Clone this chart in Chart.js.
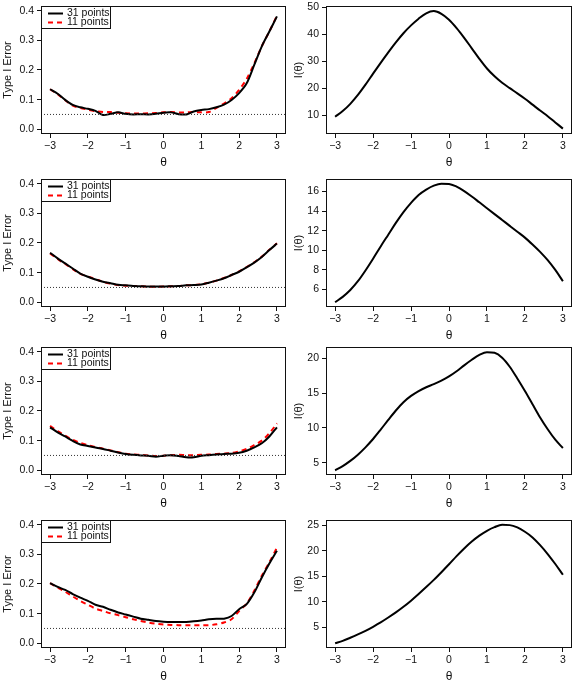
<!DOCTYPE html>
<html><head><meta charset="utf-8">
<script src="https://cdn.jsdelivr.net/npm/chart.js@4.4.0/dist/chart.umd.min.js"></script>
<style>
html,body{margin:0;padding:0;background:#fff;width:574px;height:682px;overflow:hidden;}
canvas{position:absolute;display:block;}
</style></head><body>
<script>
// ---------- data ----------
const theta = [-3.0,-2.8,-2.6,-2.4,-2.2,-2.0,-1.8,-1.6,-1.4,-1.2,-1.0,-0.8,-0.6,-0.4,-0.2,0.0,0.2,0.4,0.6,0.8,1.0,1.2,1.4,1.6,1.8,2.0,2.2,2.4,2.6,2.8,3.0];
const xTicks = [-3,-2,-1,0,1,2,3];
const xTickLabels = ["\u22123","\u22122","\u22121","0","1","2","3"];
const errTicks = [0,0.1,0.2,0.3,0.4];
const errTickLabels = ["0.0","0.1","0.2","0.3","0.4"];
const legendLabels = ["31 points","11 points"];
const alpha = 0.05;

const err31_1 = [0.135,0.120,0.099,0.082,0.074,0.069,0.062,0.048,0.052,0.057,0.052,0.050,0.051,0.050,0.052,0.056,0.057,0.051,0.050,0.060,0.065,0.068,0.074,0.083,0.099,0.122,0.155,0.217,0.280,0.330,0.381];
const err11_1 = [0.135,0.118,0.098,0.080,0.072,0.066,0.061,0.058,0.058,0.056,0.054,0.053,0.053,0.054,0.055,0.057,0.058,0.057,0.057,0.058,0.057,0.058,0.072,0.087,0.105,0.133,0.170,0.222,0.280,0.330,0.383];
const info1 = [9.4,11.5,14.2,17.5,21.3,25.4,29.4,33.3,37.0,40.4,43.3,45.8,47.8,48.6,47.6,45.4,42.3,38.7,34.8,30.9,27.3,24.4,22.0,20.0,18.1,16.1,13.9,11.7,9.6,7.3,5.0];
const infoTicks1 = [10,20,30,40,50];

const err31_2 = [0.167,0.148,0.131,0.114,0.097,0.086,0.077,0.069,0.064,0.059,0.057,0.055,0.054,0.053,0.053,0.053,0.054,0.055,0.057,0.058,0.060,0.066,0.073,0.081,0.092,0.103,0.118,0.134,0.153,0.176,0.198];
const err11_2 = [0.165,0.146,0.129,0.112,0.096,0.087,0.078,0.069,0.063,0.058,0.056,0.055,0.054,0.053,0.052,0.053,0.054,0.055,0.057,0.058,0.061,0.066,0.073,0.082,0.092,0.104,0.119,0.135,0.154,0.177,0.199];
const info2 = [4.71,5.25,5.95,6.85,7.95,9.15,10.4,11.6,12.8,13.9,14.85,15.65,16.2,16.6,16.8,16.78,16.5,16.05,15.5,14.9,14.3,13.7,13.1,12.5,11.9,11.3,10.6,9.85,9.0,8.0,6.85];
const infoTicks2 = [6,8,10,12,14,16];

const err31_3 = [0.145,0.128,0.114,0.099,0.087,0.082,0.077,0.072,0.066,0.060,0.055,0.052,0.050,0.049,0.046,0.049,0.051,0.048,0.044,0.044,0.049,0.051,0.053,0.055,0.056,0.059,0.066,0.077,0.091,0.114,0.145];
const err11_3 = [0.150,0.132,0.117,0.103,0.092,0.085,0.078,0.073,0.067,0.061,0.056,0.053,0.052,0.050,0.048,0.049,0.051,0.052,0.051,0.051,0.052,0.053,0.055,0.056,0.058,0.064,0.072,0.085,0.100,0.125,0.158];
const info3 = [3.9,4.5,5.25,6.15,7.2,8.4,9.75,11.15,12.5,13.7,14.6,15.3,15.85,16.3,16.8,17.4,18.15,19.0,19.8,20.5,20.9,20.8,20.1,18.8,17.1,15.3,13.4,11.5,9.8,8.3,7.1];
const infoTicks3 = [5,10,15,20];

const err31_4 = [0.203,0.190,0.180,0.166,0.154,0.143,0.130,0.123,0.113,0.104,0.097,0.090,0.083,0.079,0.075,0.073,0.072,0.072,0.072,0.074,0.077,0.081,0.083,0.083,0.092,0.115,0.132,0.171,0.222,0.269,0.312];
const err11_4 = [0.203,0.188,0.174,0.158,0.143,0.130,0.117,0.109,0.101,0.095,0.088,0.081,0.075,0.070,0.066,0.063,0.062,0.061,0.061,0.061,0.061,0.061,0.064,0.070,0.081,0.109,0.134,0.177,0.228,0.273,0.323];
const info4 = [1.94,2.4,3.0,3.65,4.35,5.15,6.0,6.95,7.95,9.05,10.25,11.55,12.9,14.3,15.8,17.35,18.95,20.45,21.8,22.95,23.9,24.6,25.05,25.0,24.55,23.7,22.6,21.1,19.35,17.4,15.3];
const infoTicks4 = [5,10,15,20,25];

// ---------- setup ----------
Chart.defaults.font.family = '"Liberation Sans", Arial, Helvetica, sans-serif';
Chart.defaults.color = '#111';
Chart.defaults.animation = false;

const X_MIN = -3.24, X_MAX = 3.24;
const xy = vals => theta.map((t,i)=>({x:t, y:vals[i]}));

const boxPlugin = {
  id: 'box',
  afterDatasetsDraw(chart, args, opts) {
    const {ctx, chartArea:a} = chart;
    ctx.save();
    ctx.strokeStyle = '#111'; ctx.lineWidth = 1; ctx.setLineDash([]);
    ctx.strokeRect(a.left+0.5, a.top+0.5, a.right-a.left-1, a.bottom-a.top-1);
    if (opts && opts.legend) {
      const lx = a.left, ly = a.top, lw = 69, lh = 22;
      ctx.fillStyle = '#fff';
      ctx.fillRect(lx+1, ly+1, lw-1, lh-1);
      ctx.strokeRect(lx+0.5, ly+0.5, lw, lh);
      ctx.lineWidth = 2;
      ctx.strokeStyle = '#000';
      ctx.beginPath(); ctx.moveTo(lx+7, ly+7.5); ctx.lineTo(lx+22, ly+7.5); ctx.stroke();
      ctx.strokeStyle = '#ff0000'; ctx.setLineDash([5,4]);
      ctx.beginPath(); ctx.moveTo(lx+7, ly+16.5); ctx.lineTo(lx+23, ly+16.5); ctx.stroke();
      ctx.setLineDash([]);
      ctx.fillStyle = '#111';
      ctx.font = '10.5px "Liberation Sans", Arial, sans-serif';
      ctx.textBaseline = 'middle'; ctx.textAlign = 'left';
      ctx.fillText(legendLabels[0], lx+26, ly+7);
      ctx.fillText(legendLabels[1], lx+26, ly+16);
    }
    ctx.restore();
  }
};

const tickGrid = {display:true, drawOnChartArea:false, drawTicks:true, tickLength:4, color:'#111', lineWidth:1};

function xScale() {
  return {
    type:'linear', min:X_MIN, max:X_MAX,
    afterBuildTicks(s){ s.ticks = xTicks.map(v=>({value:v})); },
    afterFit(s){ s.height = 36; s.paddingLeft = 0; s.paddingRight = 0; },
    grid: tickGrid, border:{display:false},
    ticks:{font:{size:10.5}, padding:2, maxRotation:0, autoSkip:false, color:'#111',
      callback:(v,i)=>xTickLabels[i]},
    title:{display:true, text:'\u03b8', font:{size:12}, color:'#111', padding:{top:0,bottom:0}}
  };
}
function yScale(min, max, ticks, labels, width, title, tpad) {
  return {
    type:'linear', min, max,
    afterBuildTicks(s){ s.ticks = ticks.map(v=>({value:v})); },
    afterFit(s){ s.width = width; s.paddingTop = 0; s.paddingBottom = 0; },
    grid: tickGrid, border:{display:false},
    ticks:{font:{size:10.5}, padding:3, autoSkip:false, color:'#111',
      callback:(v,i)=>labels[i]},
    title:{display:true, text:title, font:{size:11}, color:'#111', padding:{top:tpad,bottom:0}}
  };
}

function makeCanvas(left, top, w, h) {
  const c = document.createElement('canvas');
  c.width = w; c.height = h;
  c.style.left = left+'px'; c.style.top = top+'px';
  c.style.width = w+'px'; c.style.height = h+'px';
  document.body.appendChild(c);
  return c;
}

function errChart(top, s31, s11) {
  const c = makeCanvas(0, top, 290, 170);
  new Chart(c, {
    type:'line',
    data:{datasets:[
      {data:[{x:X_MIN,y:alpha},{x:X_MAX,y:alpha}], borderColor:'#333', borderWidth:1, borderDash:[1,2], pointRadius:0, tension:0},
      {label:legendLabels[0], data:xy(s31), borderColor:'#000', borderWidth:2, pointRadius:0, tension:0.3},
      {label:legendLabels[1], data:xy(s11), borderColor:'#ff0000', borderWidth:2, borderDash:[5,4], pointRadius:0, tension:0.3}
    ]},
    options:{
      responsive:false, devicePixelRatio:1,
      layout:{padding:{top:6, right:4, left:0, bottom:0}},
      plugins:{legend:{display:false}, tooltip:{enabled:false}, box:{legend:true}},
      scales:{x:xScale(), y:yScale(-0.016, 0.416, errTicks, errTickLabels, 41, 'Type I Error', 1.5)}
    },
    plugins:[boxPlugin]
  });
}

function infoChart(top, vals, ymin, ymax, ticks) {
  const c = makeCanvas(290, top, 284, 170);
  new Chart(c, {
    type:'line',
    data:{datasets:[
      {data:xy(vals), borderColor:'#000', borderWidth:2, pointRadius:0, cubicInterpolationMode:'monotone'}
    ]},
    options:{
      responsive:false, devicePixelRatio:1,
      layout:{padding:{top:6, right:2, left:0, bottom:0}},
      plugins:{legend:{display:false}, tooltip:{enabled:false}, box:{legend:false}},
      scales:{x:xScale(), y:yScale(ymin, ymax, ticks, ticks.map(String), 36, 'I(\u03b8)', 2.5)}
    },
    plugins:[boxPlugin]
  });
}

const rowTops = [0, 173, 341, 514];
errChart(rowTops[0], err31_1, err11_1);
infoChart(rowTops[0], info1, 3.0, 50.5, infoTicks1);
errChart(rowTops[1], err31_2, err11_2);
infoChart(rowTops[1], info2, 4.22, 17.28, infoTicks2);
errChart(rowTops[2], err31_3, err11_3);
infoChart(rowTops[2], info3, 3.22, 21.64, infoTicks3);
errChart(rowTops[3], err31_4, err11_4);
infoChart(rowTops[3], info4, 1.0, 26.0, infoTicks4);
</script>
</body></html>
